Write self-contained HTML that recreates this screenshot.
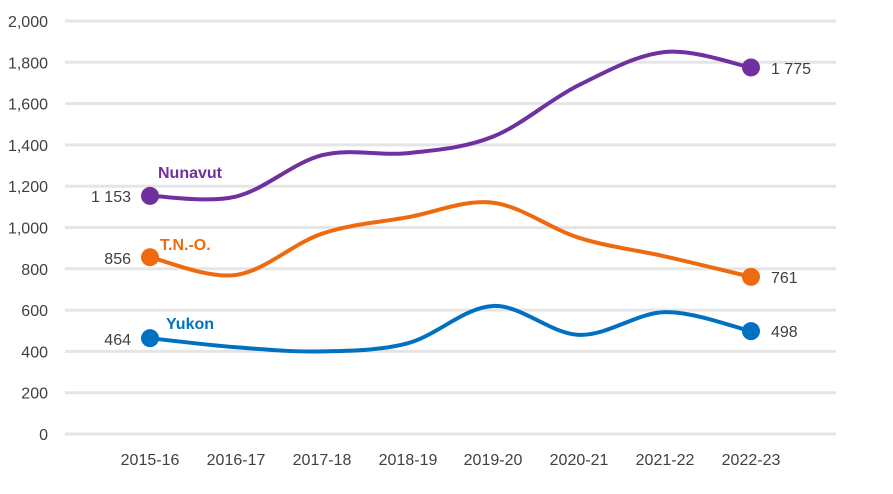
<!DOCTYPE html>
<html><head><meta charset="utf-8"><style>
html,body{margin:0;padding:0;background:#fff;}
svg text{font-family:"Liberation Sans Narrow","Liberation Sans",Arial,sans-serif;}
</style></head><body>
<svg id="s" width="893" height="489" viewBox="0 0 893 489" xmlns="http://www.w3.org/2000/svg">
<g id="grid" stroke="#e5e5e5" stroke-width="3"></g>
<g id="ylab" font-size="16" fill="#404040" text-anchor="end"></g>
<g id="xlab" font-size="16" fill="#404040" text-anchor="middle"></g>
<g id="lines" fill="none" stroke-width="4" stroke-linecap="round"></g>
<g id="dots"></g>
<g font-size="16" fill="#404040">
<text x="131" y="202" text-anchor="end" transform="scale(1,1)">1 153</text>
<text x="131" y="264" text-anchor="end">856</text>
<text x="131" y="345" text-anchor="end">464</text>
<text x="771" y="74">1 775</text>
<text x="771" y="283">761</text>
<text x="771" y="337">498</text>
</g>
<g font-size="16" font-weight="bold">
<text x="158" y="178" fill="#7030a0">Nunavut</text>
<text x="160" y="250" fill="#ee6a10">T.N.-O.</text>
<text x="166" y="329" fill="#0070c0">Yukon</text>
</g>
</svg>
<script>
var ns="http://www.w3.org/2000/svg";
function el(p,t,a,txt){var e=document.createElementNS(ns,t);for(var k in a)e.setAttribute(k,a[k]);if(txt)e.textContent=txt;document.getElementById(p).appendChild(e);return e;}
function Y(v){return 434-v*0.2065;}
for(var i=0;i<=10;i++){var v=i*200,y=Y(v);el("grid","line",{x1:65,x2:836,y1:y,y2:y});
el("ylab","text",{x:48,y:y+6},v>=1000?(Math.floor(v/1000)+","+String(v%1000).padStart(3,"0")):String(v));}
var X=[150,236,322,408,493,579,665,751];
var L=["2015-16","2016-17","2017-18","2018-19","2019-20","2020-21","2021-22","2022-23"];
L.forEach(function(t,i){el("xlab","text",{x:X[i],y:465},t);});
var S=[["#7030a0",[1153,1150,1350,1360,1440,1690,1850,1775]],
["#ee6a10",[856,770,970,1050,1120,950,860,761]],
["#0070c0",[464,420,400,440,620,480,590,498]]];
S.forEach(function(s){var p=X.map(function(x,i){return [x,Y(s[1][i])];});
var d="M"+p[0][0]+","+p[0][1];
for(var i=0;i<p.length-1;i++){var p0=p[Math.max(i-1,0)],p1=p[i],p2=p[i+1],p3=p[Math.min(i+2,p.length-1)];
d+=" C"+(p1[0]+(p2[0]-p0[0])/6)+","+(p1[1]+(p2[1]-p0[1])/6)+" "+(p2[0]-(p3[0]-p1[0])/6)+","+(p2[1]-(p3[1]-p1[1])/6)+" "+p2[0]+","+p2[1];}
el("lines","path",{d:d,stroke:s[0]});
el("dots","circle",{cx:p[0][0],cy:p[0][1],r:9,fill:s[0]});
el("dots","circle",{cx:p[7][0],cy:p[7][1],r:9,fill:s[0]});});
</script>
</body></html>
